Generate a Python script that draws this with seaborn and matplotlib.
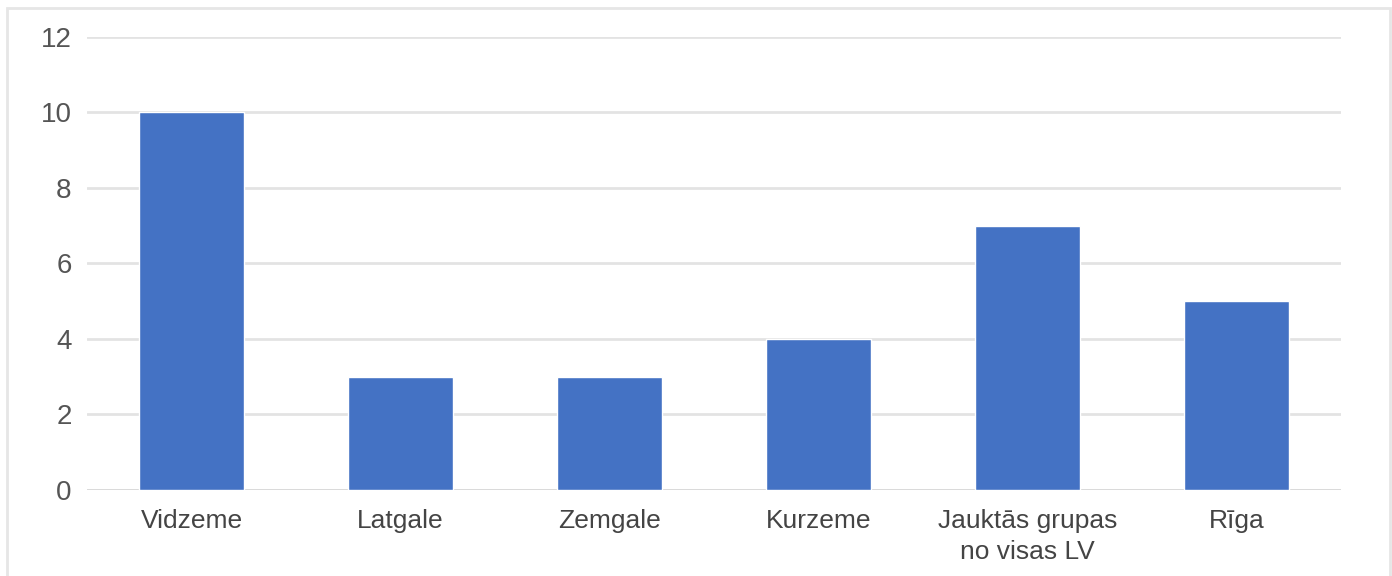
import matplotlib
matplotlib.use("Agg")
import matplotlib.pyplot as plt
from matplotlib.patches import Rectangle
import seaborn as sns
import pandas as pd

regions = ["Vidzeme", "Latgale", "Zemgale", "Kurzeme", "Jauktās grupas\nno visas LV", "Rīga"]
counts = [10, 3, 3, 4, 7, 5]
y_ticks = [0, 2, 4, 6, 8, 10, 12]

sns.set_theme(style="white")
plt.rcParams["font.family"] = ["Liberation Sans", "DejaVu Sans"]

df = pd.DataFrame({"region": regions, "count": counts})

fig = plt.figure(figsize=(13.92, 5.76), dpi=100)
ax = fig.add_axes([0.0625, 0.1493, 0.9009, 0.7865])

sns.barplot(data=df, x="region", y="count", color="#4472C4", width=0.5,
            saturation=1, ax=ax, zorder=3)

ax.set_xlim(-0.5, len(regions) - 0.5)
ax.set_ylim(0, 12)
ax.set_yticks(y_ticks)
ax.set_yticklabels([str(v) for v in y_ticks])
ax.yaxis.grid(True, color="#e3e3e3", linewidth=2, zorder=0)
ax.set_axisbelow(True)
for s in ax.spines.values():
    s.set_visible(False)
ax.axhline(0, color="#d9d9d9", linewidth=2, zorder=2)
ax.set_xlabel("")
ax.set_ylabel("")
ax.tick_params(axis="y", length=0, pad=11, labelsize=20, labelcolor="#555555")
ax.tick_params(axis="x", length=0, pad=14, labelsize=19, labelcolor="#444444")
for lbl in ax.get_xticklabels():
    lbl.set_linespacing(1.32)

# light frame around the chart
fig.patches.append(Rectangle((7 / 1392, -0.01), (1390 - 7) / 1392, 1 - 8 / 576 + 0.01,
                             transform=fig.transFigure, fill=False,
                             edgecolor="#e6e6e6", linewidth=2))

fig.savefig("out.png", dpi=100)
